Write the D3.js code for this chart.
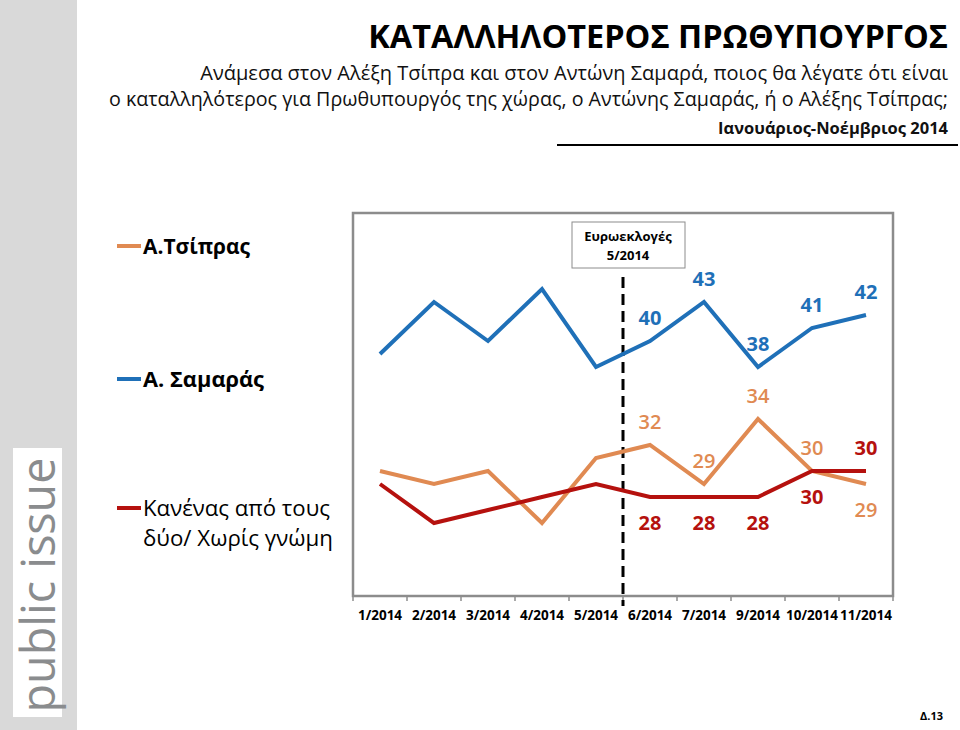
<!DOCTYPE html>
<html><head><meta charset="utf-8">
<script src="https://cdn.jsdelivr.net/npm/d3@7"></script>
<style>
html,body{margin:0;padding:0;background:#fff;}
svg{display:block;}
text{font-family:"Open Sans","Noto Sans",sans-serif;}
</style></head>
<body>
<svg id="chart" width="960" height="730"></svg>
<script>
const months = ["1/2014","2/2014","3/2014","4/2014","5/2014","6/2014","7/2014","9/2014","10/2014","11/2014"];
const tsipras = [30,29,30,26,31,32,29,34,30,29];
const samaras = [39,43,40,44,38,40,43,38,41,42];
const none    = [29,26,27,28,29,28,28,28,30,30];
const seriesNames = ["Α.Τσίπρας","Α. Σαμαράς","Κανένας από τους|δύο/ Χωρίς γνώμη"];
const seriesColors = ["#e08a52","#1f70b8","#b5110e"];
const labelFrom = 5; // labels shown from 6/2014 onwards
// label placement per series per point: 1 = above, -1 = below
const tsiprasPlace = [1,1,1,1,1,1,1,1,1,-1];
const samarasPlace = [1,1,1,1,1,1,1,1,1,1];
const nonePlace    = [-1,-1,-1,-1,-1,-1,-1,-1,-1,1];
const electionLabel = ["Ευρωεκλογές","5/2014"];
const electionMonth = "6/2014";

const svg = d3.select("#chart");

// scale a text's font size so that its natural width matches a target
function fit(sel, width){
  const n = sel.node();
  const fs = parseFloat(sel.attr("font-size"));
  const w = n.getComputedTextLength();
  if (w > 0) sel.attr("font-size", (fs*width/w).toFixed(2));
  return sel;
}

// left sidebar
svg.append("rect").attr("x",0).attr("y",0).attr("width",77).attr("height",730).attr("fill","#d9d9d9");
svg.append("rect").attr("x",13).attr("y",448).attr("width",49).attr("height",269).attr("fill","#ffffff");
fit(svg.append("text").attr("transform","translate(55,585) rotate(-90)")
  .attr("text-anchor","middle").attr("font-size",46).attr("fill","#8a8c8e")
  .text("public issue"), 255);

// titles
fit(svg.append("text").attr("x",948).attr("y",48).attr("text-anchor","end")
  .attr("font-size",34).attr("font-weight","bold").attr("fill","#000")
  .text("ΚΑΤΑΛΛΗΛΟΤΕΡΟΣ ΠΡΩΘΥΠΟΥΡΓΟΣ"), 580);
fit(svg.append("text").attr("x",948).attr("y",80).attr("text-anchor","end")
  .attr("font-size",19).attr("fill","#111")
  .text("Ανάμεσα στον Αλέξη Τσίπρα και στον Αντώνη Σαμαρά, ποιος θα λέγατε ότι είναι"), 748);
fit(svg.append("text").attr("x",948).attr("y",106).attr("text-anchor","end")
  .attr("font-size",19).attr("fill","#111")
  .text("ο καταλληλότερος για Πρωθυπουργός της χώρας, ο Αντώνης Σαμαράς, ή ο Αλέξης Τσίπρας;"), 840);
fit(svg.append("text").attr("x",948).attr("y",134).attr("text-anchor","end")
  .attr("font-size",15).attr("font-weight","bold").attr("fill","#111")
  .text("Ιανουάριος-Νοέμβριος 2014"), 230);
svg.append("line").attr("x1",557).attr("x2",958).attr("y1",145).attr("y2",145)
  .attr("stroke","#000").attr("stroke-width",2);

// scales
const x = d3.scaleBand().domain(months).range([353,893]);
const y = d3.scaleLinear().domain([20,50]).range([601,211]);
const cx = d => x(d) + x.bandwidth()/2;
const plotTop = 213, plotBottom = 596;

// plot box
svg.append("rect").attr("x",353).attr("y",plotTop).attr("width",540).attr("height",plotBottom-plotTop)
  .attr("fill","none").attr("stroke","#8c8c8c").attr("stroke-width",2.5);

// x axis
const ax = svg.append("g").attr("transform",`translate(0,${plotBottom})`)
  .call(d3.axisBottom(x).tickSize(0).tickPadding(14));
ax.select(".domain").remove();
ax.selectAll("text").attr("font-size",13.5).attr("font-weight","bold").attr("fill","#000")
  .attr("font-family","'Open Sans',sans-serif");
const bounds = months.map(m => x(m)).concat([x(months[months.length-1]) + x.step()]);
svg.append("g").selectAll("line").data(bounds).join("line")
  .attr("x1",d=>d).attr("x2",d=>d).attr("y1",plotBottom).attr("y2",plotBottom+5)
  .attr("stroke","#8c8c8c").attr("stroke-width",1.5);

// election marker
const ex = x(electionMonth);
svg.append("line").attr("x1",ex).attr("x2",ex).attr("y1",277).attr("y2",606)
  .attr("stroke","#000").attr("stroke-width",3).attr("stroke-dasharray","11,6");
svg.append("rect").attr("x",ex-51).attr("y",222).attr("width",113).attr("height",46)
  .attr("fill","#fff").attr("stroke","#8c8c8c").attr("stroke-width",1);
electionLabel.forEach((t,i)=>{
  svg.append("text").attr("x",ex+5).attr("y",241+i*19).attr("text-anchor","middle")
    .attr("font-size",13).attr("font-weight","bold").attr("fill","#000").text(t);
});

// lines
const series = [
  {vals: tsipras, place: tsiprasPlace, color: seriesColors[0]},
  {vals: samaras, place: samarasPlace, color: seriesColors[1]},
  {vals: none,    place: nonePlace,    color: seriesColors[2]}
];
const line = d3.line().x((d,i)=>cx(months[i])).y(d=>y(d));
series.forEach(s=>{
  svg.append("path").datum(s.vals).attr("d",line)
    .attr("fill","none").attr("stroke",s.color).attr("stroke-width",4)
    .attr("stroke-linejoin","miter");
});
// data labels
series.forEach((s,si)=>{
  svg.append("g").selectAll("text").data(s.vals.map((v,i)=>({v,i})).filter(d=>d.i>=labelFrom))
    .join("text")
    .attr("x",d=>cx(months[d.i]))
    .attr("y",d=> s.place[d.i] > 0 ? y(d.v)-16 : y(d.v)+33)
    .attr("text-anchor","middle").attr("font-size",20).attr("font-weight",si===0?"600":"bold")
    .attr("fill",s.color).text(d=>d.v);
});

// legend
const legendY = [246, 379, 508];
const legendWidths = [[107],[121],[187,190]];
series.forEach((s,i)=>{
  svg.append("line").attr("x1",117).attr("x2",141).attr("y1",legendY[i]).attr("y2",legendY[i])
    .attr("stroke",s.color).attr("stroke-width",4);
  const lines = seriesNames[i].split("|");
  lines.forEach((t,j)=>{
    fit(svg.append("text").attr("x",143).attr("y",legendY[i]+8+j*30)
      .attr("font-size",20).attr("font-weight",i===2?"500":"bold").attr("fill","#000")
      .text(t), legendWidths[i][j]);
  });
});

// page number
svg.append("text").attr("x",943).attr("y",720).attr("text-anchor","end")
  .attr("font-size",11).attr("font-weight","bold").attr("fill","#000").text("Δ.13");
</script>
</body></html>
